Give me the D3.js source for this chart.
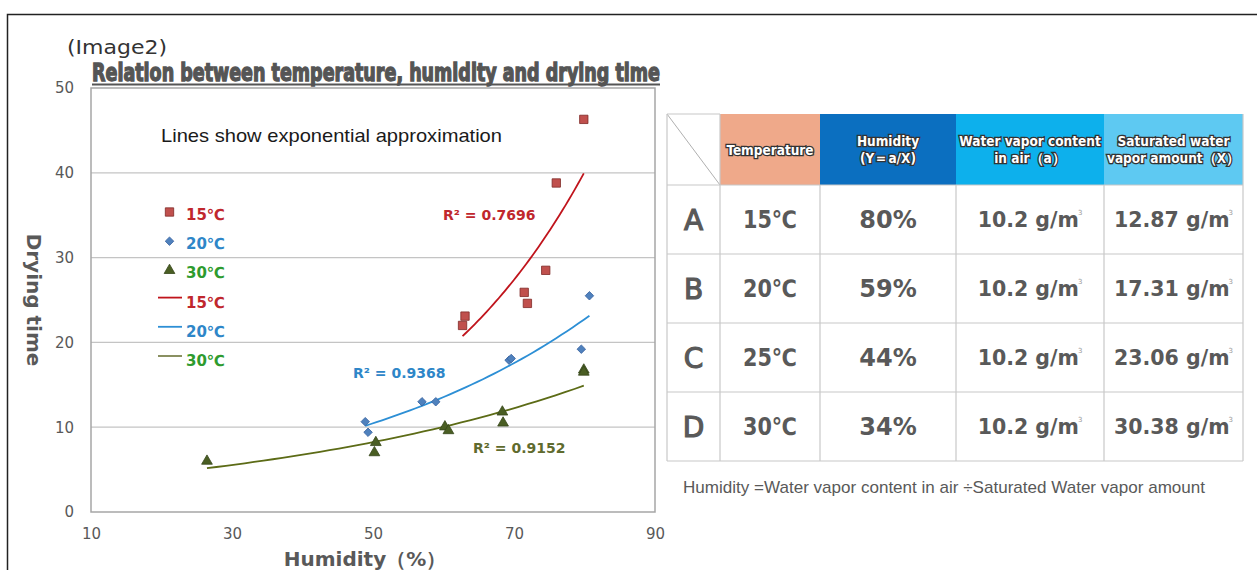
<!DOCTYPE html>
<html>
<head>
<meta charset="utf-8">
<script src="https://cdnjs.cloudflare.com/ajax/libs/d3/7.8.5/d3.min.js"></script>
<style>
  body { margin: 0; background: #fff; }
  svg { display: block; }
</style>
</head>
<body>
<svg id="main" width="1257" height="570"></svg>
<script>
// ---- data ----
var hum15 = [62.7, 63.05, 71.45, 71.9, 74.5, 76.0, 79.9];
var dry15 = [22.0, 23.1, 25.9, 24.6, 28.5, 38.8, 46.3];
var hum20 = [48.9, 49.3, 56.95, 58.9, 69.3, 69.6, 79.55, 80.7];
var dry20 = [10.65, 9.4, 13.0, 13.0, 17.9, 18.1, 19.2, 25.5];
var hum30 = [26.45, 50.2, 50.4, 60.2, 60.7, 68.35, 68.45, 79.9, 79.9];
var dry30 = [6.0, 7.0, 8.2, 10.05, 9.6, 11.8, 10.5, 16.75, 16.5];
var seriesNames = ["15℃", "20℃", "30℃"];
var rSquared = ["R² = 0.7696", "R² = 0.9368", "R² = 0.9152"];
var xTicks = [10, 30, 50, 70, 90];
var yTicks = [0, 10, 20, 30, 40, 50];

// table
var rowLetters = ["A", "B", "C", "D"];
var temps = ["15℃", "20℃", "25℃", "30℃"];
var humidities = ["80%", "59%", "44%", "34%"];
var vaporContent = ["10.2", "10.2", "10.2", "10.2"];
var saturated = ["12.87", "17.31", "23.06", "30.38"];
var headerLines = [["Temperature"], ["Humidity", "(Y＝a/X)"], ["Water vapor content", "in air（a）"], ["Saturated water", "vapor amount（X）"]];

var svg = d3.select("#main");
var grey = "#595959";

// outer frame (only top + left visible)
svg.append("path").attr("d", "M7.5,570 V14.5 H1257")
   .attr("fill", "none").attr("stroke", "#222").attr("stroke-width", 1.5);

// ---------------- chart ----------------
var x = d3.scaleLinear().domain([10, 90]).range([91, 655]),
    y = d3.scaleLinear().domain([0, 50]).range([512, 88]);

// gridlines
svg.append("g").selectAll("line")
   .data(yTicks.filter(function(d){ return d > 0 && d < 50; }))
   .enter().append("line")
   .attr("x1", x(10)).attr("x2", x(90))
   .attr("y1", function(d){ return y(d); }).attr("y2", function(d){ return y(d); })
   .attr("stroke", "#c4c4c4").attr("stroke-width", 1.2);

// plot frame
svg.append("rect")
   .attr("x", x(10)).attr("y", y(50))
   .attr("width", x(90) - x(10)).attr("height", y(0) - y(50))
   .attr("fill", "none").attr("stroke", "#a6a6a6").attr("stroke-width", 1.5);

var yAxis = svg.append("g")
   .attr("transform", "translate(" + x(10) + ",0)")
   .call(d3.axisLeft(y).tickValues(yTicks).tickSize(0).tickPadding(17));
var xAxis = svg.append("g")
   .attr("transform", "translate(0," + y(0) + ")")
   .call(d3.axisBottom(x).tickValues(xTicks).tickSize(0).tickPadding(16));
[xAxis, yAxis].forEach(function(g){
  g.select(".domain").remove();
  g.selectAll("text")
   .attr("fill", grey).style("font-family", "DejaVu Sans, Verdana, sans-serif").style("font-size", "15px");
});

// axis titles
svg.append("text")
   .attr("transform", "translate(27,300) rotate(90)")
   .attr("text-anchor", "middle")
   .attr("fill", grey).style("font", "bold 20px 'DejaVu Sans', Verdana, sans-serif")
   .text("Drying time");
svg.append("text")
   .attr("x", 365).attr("y", 566)
   .attr("text-anchor", "middle")
   .attr("fill", grey).style("font", "bold 20px 'DejaVu Sans', Verdana, sans-serif")
   .text("Humidity（%）");

// titles
svg.append("text")
   .attr("x", 67).attr("y", 54)
   .attr("textLength", 100).attr("lengthAdjust", "spacingAndGlyphs")
   .attr("fill", "#333").style("font", "19px 'DejaVu Sans', sans-serif")
   .text("(Image2)");
svg.append("text")
   .attr("x", 92).attr("y", 81)
   .attr("textLength", 568).attr("lengthAdjust", "spacingAndGlyphs")
   .attr("fill", "#555").attr("stroke", "#555").attr("stroke-width", 1.3)
   .style("font", "bold 24px 'Liberation Sans Narrow', 'DejaVu Sans Condensed', sans-serif")
   .text("Relation between temperature, humidity and drying time");
svg.append("line")
   .attr("x1", 92).attr("x2", 660).attr("y1", 84.5).attr("y2", 84.5)
   .attr("stroke", "#555").attr("stroke-width", 2);

svg.append("text")
   .attr("x", 161).attr("y", 142)
   .attr("textLength", 341).attr("lengthAdjust", "spacingAndGlyphs")
   .attr("fill", "#1a1a1a").style("font", "19px 'Liberation Sans', Arial, sans-serif")
   .text("Lines show exponential approximation");

// series setup (diamond = square turned 45deg)
var series = [
  {name: seriesNames[0], xs: hum15, ys: dry15, shape: d3.symbolSquare, size: 70, rot: 0,
   fill: "#c0504d", stroke: "#7f2a27", line: "#c0141c", text: "#c0272d", r2: rSquared[0], r2Color: "#c0272d", r2At: [443, 220]},
  {name: seriesNames[1], xs: hum20, ys: dry20, shape: d3.symbolSquare, size: 36, rot: 45,
   fill: "#4f81bd", stroke: "#3b64a0", line: "#2d8fd5", text: "#2e86c8", r2: rSquared[1], r2Color: "#2e86c8", r2At: [353, 378]},
  {name: seriesNames[2], xs: hum30, ys: dry30, shape: d3.symbolTriangle, size: 50, rot: 0,
   fill: "#4a5e23", stroke: "#36461a", line: "#5c6b16", text: "#2e9b2e", r2: rSquared[2], r2Color: "#5f6b2e", r2At: [473, 453]}
];

// exponential least-squares fit  y = a * exp(b x)
function expFit(xs, ys){
  var ly = ys.map(Math.log),
      mx = d3.mean(xs), my = d3.mean(ly),
      sxy = d3.sum(xs, function(v, i){ return (v - mx) * (ly[i] - my); }),
      sxx = d3.sum(xs, function(v){ return (v - mx) * (v - mx); });
  var b = sxy / sxx, a = Math.exp(my - b * mx);
  return function(v){ return a * Math.exp(b * v); };
}

var trendLine = d3.line().x(function(d){ return x(d[0]); }).y(function(d){ return y(d[1]); });

series.forEach(function(s){
  var f = expFit(s.xs, s.ys),
      ext = d3.extent(s.xs),
      pts = d3.range(0, 41).map(function(i){ var v = ext[0] + (ext[1] - ext[0]) * i / 40; return [v, f(v)]; });
  svg.append("path").attr("d", trendLine(pts))
     .attr("fill", "none").attr("stroke", s.line).attr("stroke-width", 1.8);
});

series.forEach(function(s){
  svg.append("g").selectAll("path")
     .data(s.xs.map(function(v, i){ return [v, s.ys[i]]; }))
     .enter().append("path")
     .attr("d", d3.symbol().type(s.shape).size(s.size))
     .attr("transform", function(d){ return "translate(" + x(d[0]) + "," + y(d[1]) + ") rotate(" + s.rot + ")"; })
     .attr("fill", s.fill).attr("stroke", s.stroke).attr("stroke-width", 0.8);

  svg.append("text")
     .attr("x", s.r2At[0]).attr("y", s.r2At[1])
     .attr("fill", s.r2Color).style("font", "bold 14px 'DejaVu Sans', Verdana, sans-serif")
     .text(s.r2);
});

// legend: markers then lines
var legend = svg.append("g").attr("class", "legend");
series.forEach(function(s, i){
  var ly = 213 + i * 29.2;
  legend.append("path")
     .attr("d", d3.symbol().type(s.shape).size(s.size))
     .attr("transform", "translate(169.5," + (ly - 1) + ") rotate(" + s.rot + ")")
     .attr("fill", s.fill).attr("stroke", s.stroke).attr("stroke-width", 0.8);
  legend.append("text")
     .attr("x", 186).attr("y", ly + 7)
     .attr("fill", s.text).style("font", "bold 15px 'DejaVu Sans', Verdana, sans-serif")
     .text(s.name);
});
series.forEach(function(s, i){
  var ly = 213 + (i + 3) * 29.2;
  legend.append("line")
     .attr("x1", 158).attr("x2", 182).attr("y1", ly - 3).attr("y2", ly - 3)
     .attr("stroke", i === 2 ? "#7d8450" : s.line).attr("stroke-width", 1.8);
  legend.append("text")
     .attr("x", 186).attr("y", ly + 7)
     .attr("fill", s.text).style("font", "bold 15px 'DejaVu Sans', Verdana, sans-serif")
     .text(s.name);
});

// ---------------- table ----------------
var colX = [667, 720, 820, 956, 1104, 1243],
    headTop = 114, headBottom = 185, rowH = 69;
var headColors = ["#efa98a", "#0b6fc0", "#0db0ec", "#5ec9f2"];
var table = svg.append("g").attr("class", "table");

// header cells
table.selectAll(".hcell").data(headerLines).enter().append("rect")
   .attr("class", "hcell")
   .attr("x", function(d, i){ return colX[i + 1]; })
   .attr("y", headTop)
   .attr("width", function(d, i){ return colX[i + 2] - colX[i + 1]; })
   .attr("height", headBottom - headTop)
   .attr("fill", function(d, i){ return headColors[i]; });

headerLines.forEach(function(lines, i){
  var cx = (colX[i + 1] + colX[i + 2]) / 2,
      cy = (headTop + headBottom) / 2;
  var t = table.append("text")
     .attr("text-anchor", "middle")
     .attr("fill", "#fff").attr("stroke", "#333").attr("stroke-width", 2.6)
     .style("paint-order", "stroke")
     .style("font", "bold 13.5px 'Liberation Sans Narrow', 'DejaVu Sans Condensed', sans-serif");
  lines.forEach(function(l, k){
    t.append("tspan")
     .attr("x", cx)
     .attr("y", cy + 5 + (k - (lines.length - 1) / 2) * 17)
     .text(l);
  });
});

// corner cell diagonal
table.append("line")
   .attr("x1", colX[0]).attr("y1", headTop)
   .attr("x2", colX[1]).attr("y2", headBottom)
   .attr("stroke", "#b0b0b0").attr("stroke-width", 1);

// grid lines of table
var bottom = headBottom + rowH * rowLetters.length;
d3.range(rowLetters.length + 1).forEach(function(r){
  table.append("line")
     .attr("x1", colX[0]).attr("x2", colX[5])
     .attr("y1", headBottom + r * rowH).attr("y2", headBottom + r * rowH)
     .attr("stroke", "#c8c8c8").attr("stroke-width", 1.2);
});
table.append("line").attr("x1", colX[0]).attr("x2", colX[1]).attr("y1", headTop).attr("y2", headTop)
   .attr("stroke", "#c8c8c8").attr("stroke-width", 1.2);
colX.forEach(function(cx, i){
  table.append("line")
     .attr("x1", cx).attr("x2", cx)
     .attr("y1", (i <= 1 || i === 5) ? headTop : headBottom).attr("y2", bottom)
     .attr("stroke", "#c8c8c8").attr("stroke-width", 1.2);
});

// body text
var bodyFont = "'DejaVu Sans', Verdana, sans-serif";
function cellText(col, row, str, size){
  return table.append("text")
     .attr("x", (colX[col] + colX[col + 1]) / 2)
     .attr("y", headBottom + row * rowH + rowH / 2 + size * 0.36)
     .attr("text-anchor", "middle")
     .attr("fill", grey)
     .style("font", "bold " + size + "px " + bodyFont)
     .text(str);
}
rowLetters.forEach(function(l, r){
  cellText(0, r, l, 28).style("font-weight", "normal").attr("stroke", grey).attr("stroke-width", 1.2);
  cellText(1, r, temps[r], 24).attr("textLength", 54).attr("lengthAdjust", "spacingAndGlyphs");
  cellText(2, r, humidities[r], 24);
  [vaporContent[r], saturated[r]].forEach(function(v, k){
    var t = cellText(3 + k, r, null, 20.5);
    t.append("tspan").text(v + " g/m");
    t.append("tspan").attr("dx", -1).attr("dy", -12)
     .attr("fill", "#999").style("font-size", "7px").style("font-weight", "normal").text("3");
  });
});

svg.append("text")
   .attr("x", 683).attr("y", 493)
   .attr("textLength", 522).attr("lengthAdjust", "spacingAndGlyphs")
   .attr("fill", grey).style("font", "17px 'Liberation Sans Narrow', 'Liberation Sans', Arial, sans-serif")
   .text("Humidity =Water vapor content in air ÷Saturated Water vapor amount");
</script>
</body>
</html>
